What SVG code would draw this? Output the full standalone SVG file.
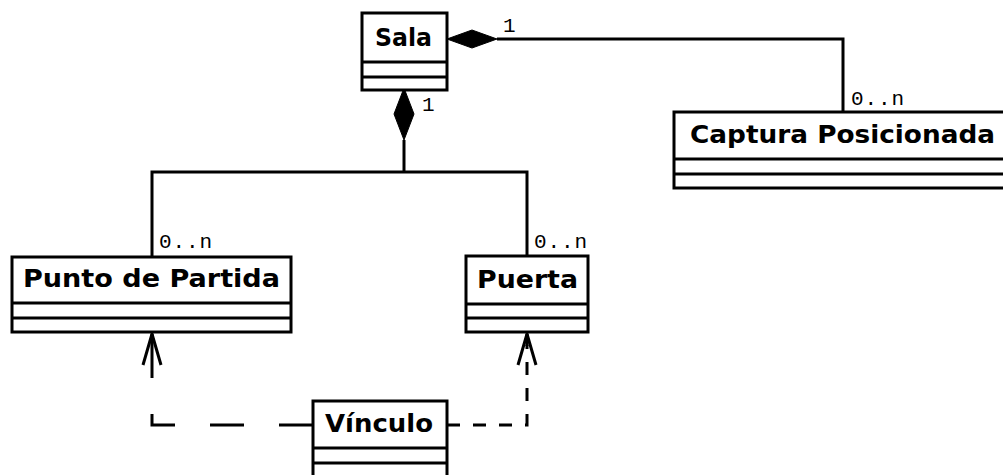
<svg xmlns="http://www.w3.org/2000/svg" width="1003" height="475" viewBox="0 0 1003 475">
<style>
.box{fill:#fff;stroke:#000;stroke-width:3}
.sep{stroke:#000;stroke-width:3}
.name{font-family:"DejaVu Sans",sans-serif;font-weight:bold;font-size:24.5px;fill:#000}
.mult{font-family:"Liberation Mono","DejaVu Sans Mono",monospace;font-size:21px;fill:#000}
.ln{fill:none;stroke:#000;stroke-width:3}
.dia{fill:#000;stroke:#000;stroke-width:1}
.d1{stroke-dasharray:34 35}
.d2{stroke-dasharray:13 13}
</style>
<rect width="1003" height="475" fill="#fff"/>
<g id="connectors">
<polygon class="dia" points="447,39 472,30 497,39 472,48"/>
<polyline class="ln" points="497,39 843,39 843,112"/>
<polygon class="dia" points="404,88 414,114 404,140 394,114"/>
<line class="ln" x1="404" y1="140" x2="404" y2="172"/>
<polyline class="ln" points="152,257 152,172 527,172 527,256"/>
<path class="ln d1" d="M313,425 H152 V380"/>
<polyline class="ln" points="143,365 152,334 161,365"/>
<line class="ln" x1="152" y1="334" x2="152" y2="378"/>
<path class="ln d2" d="M447,425 H527 V345"/>
<polyline class="ln" points="518,365 527,334 536,365"/>
<line class="ln" x1="527" y1="334" x2="527" y2="346"/>
<text class="mult" x="503" y="32">1</text>
<text class="mult" x="851" y="105" textLength="53">0..n</text>
<text class="mult" x="422" y="111">1</text>
<text class="mult" x="159" y="248" textLength="53">0..n</text>
<text class="mult" x="534" y="248" textLength="53">0..n</text>
</g>
<g id="sala">
<rect class="box" x="362" y="13" width="85" height="77"/>
<line class="sep" x1="362" y1="62" x2="447" y2="62"/>
<line class="sep" x1="362" y1="77" x2="447" y2="77"/>
<text class="name" x="375" y="46" textLength="57" lengthAdjust="spacingAndGlyphs">Sala</text>
</g>
<g id="captura">
<rect class="box" x="674" y="112" width="340" height="76"/>
<line class="sep" x1="674" y1="159" x2="1010" y2="159"/>
<line class="sep" x1="674" y1="174" x2="1010" y2="174"/>
<text class="name" x="690" y="143" textLength="305" lengthAdjust="spacingAndGlyphs">Captura Posicionada</text>
</g>
<g id="punto">
<rect class="box" x="12" y="257" width="279" height="75"/>
<line class="sep" x1="12" y1="303" x2="291" y2="303"/>
<line class="sep" x1="12" y1="318" x2="291" y2="318"/>
<text class="name" x="23" y="287" textLength="257" lengthAdjust="spacingAndGlyphs">Punto de Partida</text>
</g>
<g id="puerta">
<rect class="box" x="466" y="256" width="122" height="76"/>
<line class="sep" x1="466" y1="304" x2="588" y2="304"/>
<line class="sep" x1="466" y1="318" x2="588" y2="318"/>
<text class="name" x="477" y="288" textLength="101" lengthAdjust="spacingAndGlyphs">Puerta</text>
</g>
<g id="vinculo">
<rect class="box" x="313" y="401" width="134" height="80"/>
<line class="sep" x1="313" y1="448" x2="447" y2="448"/>
<line class="sep" x1="313" y1="463" x2="447" y2="463"/>
<text class="name" x="325" y="432" textLength="108" lengthAdjust="spacingAndGlyphs">Vínculo</text>
</g>
</svg>
